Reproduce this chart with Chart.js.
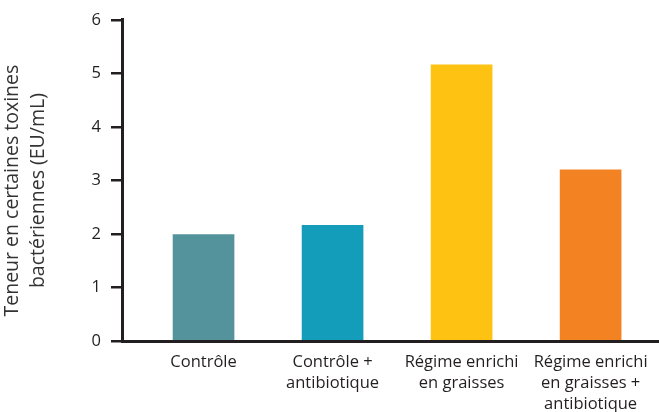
<!DOCTYPE html>
<html>
<head>
<meta charset="utf-8">
<script src="https://cdn.jsdelivr.net/npm/chart.js@4"></script>
<style>
  html, body { margin: 0; padding: 0; background: #fff; }
  #wrap { width: 659px; height: 412px; }
</style>
</head>
<body>
<div id="wrap"><canvas id="graphique"></canvas></div>
<script>
const categories = [
  ["Contrôle"],
  ["Contrôle +", "antibiotique"],
  ["Régime enrichi", "en graisses"],
  ["Régime enrichi", "en graisses +", "antibiotique"]
];
const valeurs = [1.99, 2.16, 5.16, 3.2];
const couleurs = ["#54939c", "#149dbb", "#fdc212", "#f38322"];
const ticksY = [0, 1, 2, 3, 4, 5, 6];

const encre = "#231f20";
const police = "'Open Sans', sans-serif";

const points = valeurs.map((v, i) => ({ x: i + 1, y: v }));

new Chart(document.getElementById("graphique"), {
  type: "bar",
  data: {
    datasets: [{
      data: points,
      backgroundColor: couleurs,
      borderWidth: 0,
      barThickness: 61
    }]
  },
  options: {
    responsive: true,
    maintainAspectRatio: false,
    animation: false,
    layout: { padding: { top: 17, right: 0, left: 0, bottom: 0 } },
    plugins: {
      legend: { display: false },
      tooltip: { enabled: false }
    },
    scales: {
      x: {
        type: "linear",
        offset: false,
        min: 0.368,
        max: 4.53,
        grid: { display: false, drawTicks: false, offset: false },
        border: { display: true, color: encre, width: 3 },
        afterFit: (s) => {
          s.height = 71;
          s.paddingLeft = 0;
          s.paddingRight = 0;
        },
        ticks: {
          stepSize: 1,
          autoSkip: false,
          maxRotation: 0,
          padding: 11,
          color: encre,
          font: { family: police, size: 16.5, lineHeight: 1.26 },
          callback: (v) => Number.isInteger(v) && categories[v - 1] ? categories[v - 1] : ""
        }
      },
      y: {
        min: 0,
        max: 6,
        afterFit: (s) => { s.width = 122; },
        afterBuildTicks: (s) => { s.ticks = ticksY.map(v => ({ value: v })); },
        grid: {
          display: true,
          drawOnChartArea: false,
          drawTicks: true,
          tickLength: 11,
          lineWidth: 2.5,
          color: encre
        },
        border: { display: true, color: encre, width: 3 },
        ticks: {
          padding: 10,
          color: encre,
          font: { family: police, size: 16.5 }
        },
        title: {
          display: true,
          // espaces en fin de ligne : décale le titre vers le bas comme sur l'original
          text: ["Teneur en certaines toxines    ", "bactériennes (EU/mL)    "],
          color: "#333",
          font: { family: police, size: 19.5, lineHeight: 1.3 },
          padding: { top: 0, bottom: 0 }
        }
      }
    }
  }
});
</script>
</body>
</html>
